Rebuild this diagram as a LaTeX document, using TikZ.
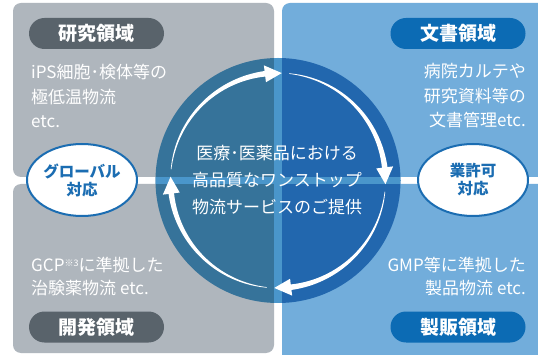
\documentclass[tikz,border=0pt]{standalone}
\usepackage{fontspec}
\setmainfont{Noto Sans CJK JP}
\usetikzlibrary{shapes.geometric}
\definecolor{panelgray}{HTML}{AFB6BD}
\definecolor{panelblue}{HTML}{72ADDB}
\definecolor{pillgray}{HTML}{59636B}
\definecolor{pillblue}{HTML}{0C6BB4}
\definecolor{circleleft}{HTML}{36739A}
\definecolor{circleright}{HTML}{2267AE}
\definecolor{circlegap}{HTML}{4A96CB}
\definecolor{ovalblue}{HTML}{1B6DB2}
\def\cx{278}\def\cy{180.5}\def\R{107.5}
\newcommand\ringarrow[2]{%
  \pgfmathsetmacro\Sa{#1}\pgfmathsetmacro\Ta{#2}\pgfmathsetmacro\Ba{#2+9}\pgfmathsetmacro\Bb{#2+8}%
  \fill[white] plot[domain=\Sa:\Bb, samples=50, variable=\t]
     ({\cx+(\R+(0.3+2.5*(\Sa-\t)/(\Sa-\Bb)))*cos(\t)}, {\cy-(\R+(0.3+2.5*(\Sa-\t)/(\Sa-\Bb)))*sin(\t)})
     -- plot[domain=\Bb:\Sa, samples=50, variable=\t]
     ({\cx+(\R-(0.3+2.5*(\Sa-\t)/(\Sa-\Bb)))*cos(\t)}, {\cy-(\R-(0.3+2.5*(\Sa-\t)/(\Sa-\Bb)))*sin(\t)})
     -- cycle;
  \fill[white] ({\cx+(\R+8.5)*cos(\Ba)},{\cy-(\R+8.5)*sin(\Ba)})
     -- ({\cx+\R*cos(\Ta)},{\cy-\R*sin(\Ta)})
     -- ({\cx+(\R-8.5)*cos(\Ba)},{\cy-(\R-8.5)*sin(\Ba)}) -- cycle;
}
\tikzset{
  pill/.style={rectangle, rounded corners=15.5pt, minimum width=135pt, minimum height=31pt,
    inner sep=0pt, text=white, font=\fontsize{19}{19}\selectfont\bfseries},
  body/.style={text=white, inner sep=0pt, font=\fontsize{17}{24.5}\selectfont},
  oval/.style={ellipse, draw=ovalblue, line width=2pt, fill=white, minimum width=110pt,
    minimum height=72pt, inner sep=0pt, align=center, text=ovalblue,
    font=\fontsize{15.5}{18}\selectfont\bfseries},
}
\begin{document}
\begin{tikzpicture}[x=1pt,y=-1pt]
\clip (0,0) rectangle (538,355);
\fill[white] (0,0) rectangle (538,355);
% panels
\fill[panelgray, rounded corners=8pt] (13,3) rectangle (274,177);
\fill[panelgray, rounded corners=8pt] (13,184) rectangle (274,353);
\fill[panelblue, rounded corners=8pt] (282,3) rectangle (560,177);
\fill[panelblue, rounded corners=8pt] (282,184) rectangle (560,370);
% circle
\begin{scope}
  \clip (\cx,\cy) circle (122.5);
  \fill[circleleft] (150,50) rectangle (275,320);
  \fill[circleright] (281,50) rectangle (410,320);
  \fill[circlegap] (274,50) rectangle (282,320);
  \fill[circlegap] (150,177) rectangle (410,184);
\end{scope}
% arrows
\ringarrow{174}{88}
\ringarrow{84}{-2}
\ringarrow{-6}{-92}
\ringarrow{-96}{-182}
% centre text
\node[text=white, align=center, inner sep=0pt, font=\fontsize{17}{27}\selectfont] (centre) at (277,180.5)
  {医療･医薬品における\\高品質なワンストップ\\物流サービスのご提供};
% pills
\node[pill, fill=pillgray] (research) at (96.5,33.5) {研究領域};
\node[pill, fill=pillblue] (document) at (458,33.5) {文書領域};
\node[pill, fill=pillgray] (develop) at (96.5,327) {開発領域};
\node[pill, fill=pillblue] (sales) at (458,327) {製販領域};
% body texts
\node[body, anchor=west, align=left] (t1) at (31,96) {iPS細胞･検体等の\\極低温物流\\etc.};
\node[body, anchor=east, align=right] (t2) at (526,96) {病院カルテや\\研究資料等の\\文書管理etc.};
\node[body, anchor=west, align=left, font=\fontsize{17}{23}\selectfont] (t3) at (31,276.5)
  {GCP\raisebox{5pt}{\fontsize{9}{9}\selectfont ※3}に準拠した\\治験薬物流 etc.};
\node[body, anchor=east, align=right, font=\fontsize{17}{23}\selectfont] (t4) at (526,276.5)
  {GMP等に準拠した\\製品物流 etc.};
% ovals
\node[oval] (global) at (82,180) {グローバル\\対応};
\node[oval] (license) at (473,180) {業許可\\対応};
\end{tikzpicture}
\end{document}
